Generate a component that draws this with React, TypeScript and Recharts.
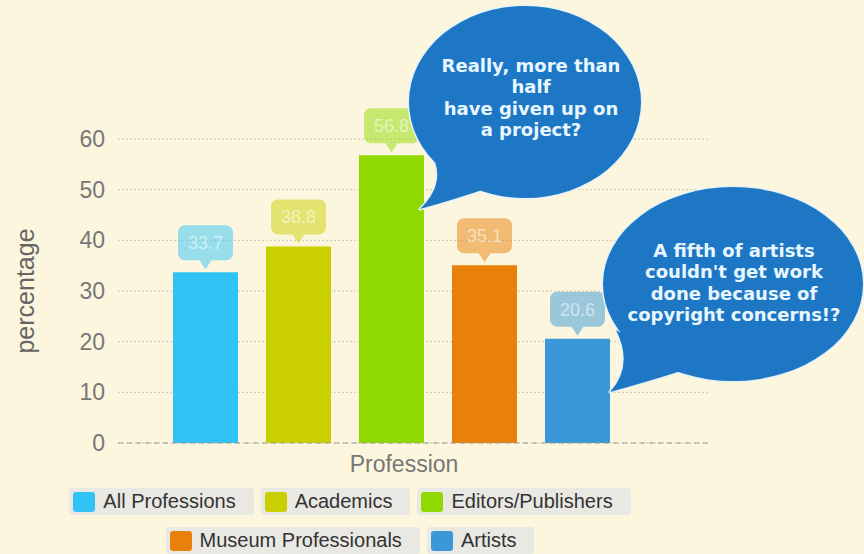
import { Bar, BarChart, CartesianGrid, LabelList, Legend, XAxis, YAxis } from "recharts";

document.body.style.margin = "0";
document.body.style.background = "#fcf6de";

const categories = ["Profession"];
const seriesKeys = ["all", "academics", "editors", "museum", "artists"];
const seriesNames = ["All Professions", "Academics", "Editors/Publishers", "Museum Professionals", "Artists"];
const percentages = [33.7, 38.8, 56.8, 35.1, 20.6];
const seriesColors = ["#31c3f5", "#c9cf00", "#8fd900", "#e8800a", "#3a97d8"];
const yTicks = [0, 10, 20, 30, 40, 50, 60];
const legendRows = [[0, 1, 2], [3, 4]];

const noteHalf = ["Really, more than", "half", "have given up on", "a project?"];
const noteArtists = ["A fifth of artists", "couldn't get work", "done because of", "copyright concerns!?"];

const data = categories.map((name) => {
  const row: Record<string, string | number> = { name };
  seriesKeys.forEach((k, i) => (row[k] = percentages[i]));
  return row;
});

const FONT = '"Liberation Sans", Arial, Helvetica, sans-serif';

function ValueTag(props: any) {
  const { x, y, width, value, color } = props;
  const cx = x + width / 2;
  const top = y;
  const boxW = 55;
  const boxH = 35;
  const boxY = top - 12 - boxH;
  return (
    <g>
      <rect x={cx - boxW / 2} y={boxY} width={boxW} height={boxH} rx={7} fill={color} fillOpacity={0.5} />
      <polygon points={`${cx - 6},${top - 12} ${cx + 6},${top - 12} ${cx},${top - 3}`} fill={color} fillOpacity={0.5} />
      <text x={cx} y={boxY + boxH / 2 + 6.5} textAnchor="middle" fontSize={18} fontFamily={FONT} fill="#ffffff" fillOpacity={0.55}>
        {value}
      </text>
    </g>
  );
}

function LegendBox() {
  return (
    <div style={{ width: 700, height: 72, paddingTop: 6, boxSizing: "border-box", fontFamily: FONT }}>
      {legendRows.map((row, r) => (
        <div key={r} style={{ display: "flex", justifyContent: "center", gap: 7, marginBottom: 12 }}>
          {row.map((i) => (
            <div
              key={seriesKeys[i]}
              style={{
                display: "flex",
                alignItems: "center",
                height: 27,
                padding: "0 18px 0 4px",
                background: "#e9e8e3",
                borderRadius: 3,
              }}
            >
              <span style={{ width: 22, height: 20, background: seriesColors[i], borderRadius: 3, marginRight: 8 }} />
              <span style={{ fontSize: 20, color: "#333", whiteSpace: "nowrap" }}>{seriesNames[i]}</span>
            </div>
          ))}
        </div>
      ))}
    </div>
  );
}

function Bubble({ path, lines, cx, y0 }: { path: string; lines: string[]; cx: number; y0: number }) {
  return (
    <g>
      <path d={path} fill="#e6f2f6" stroke="#e6f2f6" strokeWidth={3} strokeLinejoin="round" />
      <path d={path} fill="#1e77c5" />
      {lines.map((t, i) => (
        <text
          key={i}
          x={cx}
          y={y0 + i * 21.3}
          textAnchor="middle"
          fontSize={18}
          fontWeight="bold"
          fontFamily='"DejaVu Sans", Verdana, sans-serif'
          fill="#e8f7ff"
        >
          {t}
        </text>
      ))}
    </g>
  );
}

function ellipsePath(cx: number, cy: number, rx: number, ry: number) {
  return `M ${cx - rx} ${cy} A ${rx} ${ry} 0 1 0 ${cx + rx} ${cy} A ${rx} ${ry} 0 1 0 ${cx - rx} ${cy} Z`;
}

export default function App() {
  return (
    <div style={{ position: "relative", width: 864, height: 554, background: "#fcf6de" }}>
      <BarChart
        width={864}
        height={554}
        data={data}
        margin={{ top: 139, right: 154, left: 0, bottom: 0 }}
        barGap={28}
        barSize={65}
      >
        <CartesianGrid vertical={false} stroke="#c9c6b8" strokeDasharray="2 2" />
        <XAxis
          dataKey="name"
          height={39}
          tick={false}
          tickLine={false}
          axisLine={{ stroke: "#9a9a96", strokeDasharray: "5 4" }}
          padding={{ left: 0, right: 46 }}
          label={{ value: "Profession", position: "insideTop", offset: 13, dx: -10, fontSize: 23, fill: "#777", fontFamily: FONT }}
        />
        <YAxis
          width={118}
          domain={[0, 60]}
          ticks={yTicks}
          tickLine={false}
          axisLine={false}
          tickSize={6}
          tickMargin={7}
          tick={{ fontSize: 23, fill: "#777", fontFamily: FONT }}
          label={{
            value: "percentage",
            angle: -90,
            position: "insideLeft",
            offset: 21,
            dx: 4,
            fontSize: 25,
            fill: "#666",
            fontFamily: FONT,
            style: { textAnchor: "middle" },
          }}
        />
        <Legend verticalAlign="bottom" height={72} wrapperStyle={{ left: 0, width: 700 }} content={<LegendBox />} />
        {seriesKeys.map((k, i) => (
          <Bar key={k} dataKey={k} name={seriesNames[i]} fill={seriesColors[i]} isAnimationActive={false}>
            <LabelList dataKey={k} content={(p: any) => <ValueTag {...p} color={seriesColors[i]} />} />
          </Bar>
        ))}
      </BarChart>
      <svg width={864} height={554} style={{ position: "absolute", left: 0, top: 0, pointerEvents: "none" }}>
        <Bubble
          path={`${ellipsePath(525, 102, 116, 96)} M 428 148 Q 450 180 420 209 Q 456 199 488 188 Z`}
          lines={noteHalf}
          cx={531}
          y0={72}
        />
        <Bubble
          path={`${ellipsePath(733, 284, 130, 97)} M 616 330 Q 634 366 610 392 Q 650 381 684 370 Z`}
          lines={noteArtists}
          cx={734}
          y0={257}
        />
      </svg>
    </div>
  );
}
